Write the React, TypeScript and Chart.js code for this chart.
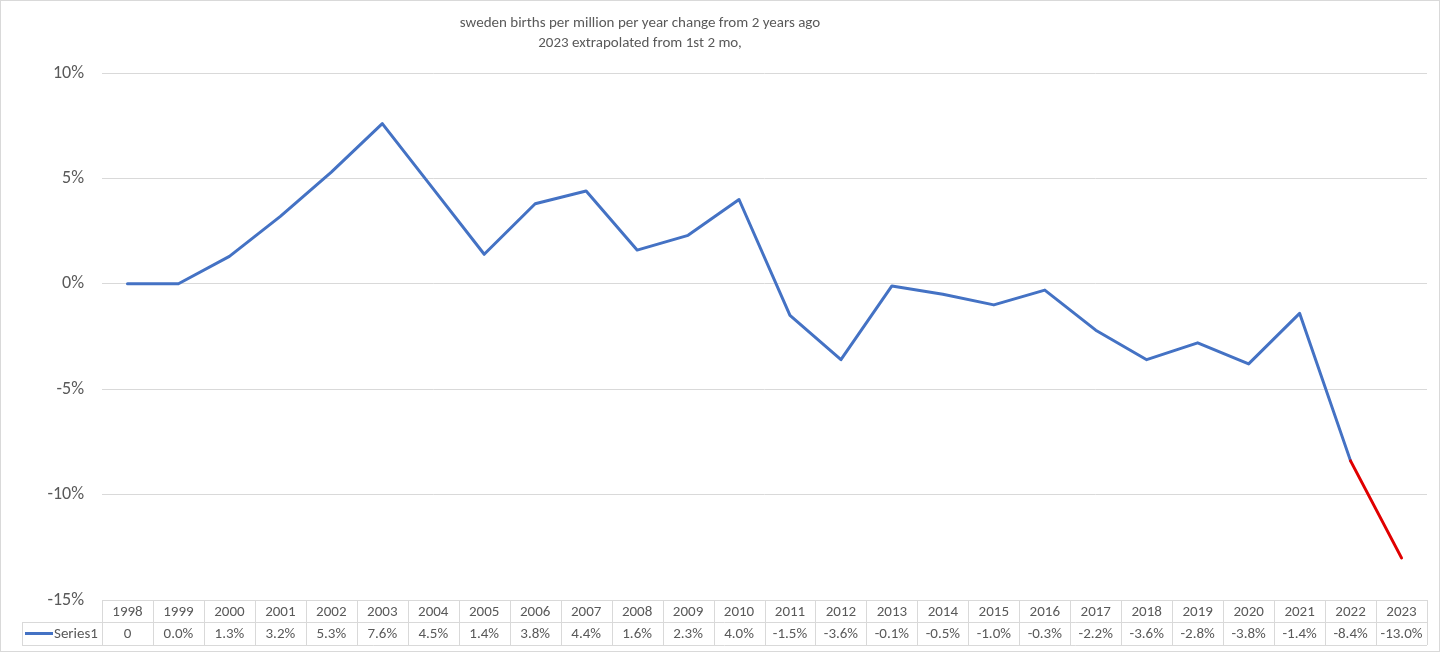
import { useEffect, useRef } from "react";
import { Chart, registerables } from "chart.js";

Chart.register(...registerables);

const years = [
  "1998", "1999", "2000", "2001", "2002", "2003", "2004", "2005", "2006", "2007",
  "2008", "2009", "2010", "2011", "2012", "2013", "2014", "2015", "2016", "2017",
  "2018", "2019", "2020", "2021", "2022", "2023",
];
const changePct = [
  0, 0.0, 1.3, 3.2, 5.3, 7.6, 4.5, 1.4, 3.8, 4.4,
  1.6, 2.3, 4.0, -1.5, -3.6, -0.1, -0.5, -1.0, -0.3, -2.2,
  -3.6, -2.8, -3.8, -1.4, -8.4, -13.0,
];
const yTicks = [-15, -10, -5, 0, 5, 10];
const titleLines = [
  "sweden births per million per year change from 2 years ago",
  "2023 extrapolated from 1st 2 mo,",
];
const seriesName = "Series1";
const extrapolationStart = "2022";

const BLUE = "#4472C4";
const RED = "#E00000";
const GRID = "#d9d9d9";
const TEXT = "#595959";
const FONT = "Carlito, Calibri, Lato, sans-serif";

function formatCell(v: number, i: number): string {
  if (i === 0) return String(v);
  return v.toFixed(1) + "%";
}

const framePlugin = {
  id: "frameAndTable",
  afterDraw(chart: any) {
    const ctx = chart.ctx as CanvasRenderingContext2D;
    const { left, right, bottom } = chart.chartArea;
    const xs = chart.scales.x;
    const n = years.length;
    const colW = (right - left) / n;
    const row1 = bottom + 22;
    const row2 = bottom + 45;
    const keyLeft = 22;

    ctx.save();
    // outer frame
    ctx.strokeStyle = GRID;
    ctx.lineWidth = 1;
    ctx.strokeRect(0.5, 0.5, chart.width - 2, chart.height - 2);

    // title
    ctx.fillStyle = TEXT;
    ctx.font = `15px ${FONT}`;
    ctx.textAlign = "center";
    ctx.textBaseline = "middle";
    titleLines.forEach((t, i) => ctx.fillText(t, 640, 23 + i * 20));

    // table grid
    ctx.strokeStyle = GRID;
    ctx.lineWidth = 1;
    ctx.beginPath();
    ctx.moveTo(left, Math.round(bottom) + 0.5);
    ctx.lineTo(right, Math.round(bottom) + 0.5);
    ctx.moveTo(keyLeft, Math.round(row1) + 0.5);
    ctx.lineTo(right, Math.round(row1) + 0.5);
    ctx.moveTo(keyLeft, Math.round(row2) + 0.5);
    ctx.lineTo(right, Math.round(row2) + 0.5);
    for (let i = 0; i <= n; i++) {
      const x = Math.round(left + i * colW) + 0.5;
      ctx.moveTo(x, bottom);
      ctx.lineTo(x, row2);
    }
    ctx.moveTo(keyLeft + 0.5, row1);
    ctx.lineTo(keyLeft + 0.5, row2);
    ctx.stroke();

    // table text
    ctx.fillStyle = TEXT;
    ctx.font = `15px ${FONT}`;
    ctx.textAlign = "center";
    ctx.textBaseline = "middle";
    years.forEach((y, i) => {
      const x = xs.getPixelForValue(i);
      ctx.fillText(y, x, (bottom + row1) / 2 + 1);
      ctx.fillText(formatCell(changePct[i], i), x, (row1 + row2) / 2 + 1);
    });

    // legend key
    const ky = (row1 + row2) / 2;
    ctx.strokeStyle = BLUE;
    ctx.lineWidth = 3;
    ctx.beginPath();
    ctx.moveTo(keyLeft + 3, ky);
    ctx.lineTo(keyLeft + 31, ky);
    ctx.stroke();
    ctx.textAlign = "left";
    ctx.fillText(seriesName, keyLeft + 32, ky + 1);
    ctx.restore();
  },
};

export default function App() {
  const ref = useRef<HTMLCanvasElement | null>(null);

  useEffect(() => {
    document.body.style.margin = "0";
    if (!ref.current) return;
    const redFrom = years.indexOf(extrapolationStart);
    const chart = new Chart(ref.current, {
      type: "line",
      data: {
        labels: years,
        datasets: [
          {
            label: seriesName,
            data: changePct,
            borderColor: BLUE,
            borderWidth: 3,
            pointRadius: 0,
            tension: 0,
            borderJoinStyle: "round",
            borderCapStyle: "round",
            segment: {
              borderColor: (c: any) => (c.p0DataIndex >= redFrom ? RED : BLUE),
            },
          },
        ],
      },
      options: {
        animation: false,
        responsive: false,
        devicePixelRatio: 1,
        layout: { padding: { left: 0, top: 73, right: 14, bottom: 53 } },
        plugins: {
          legend: { display: false },
          title: { display: false },
          tooltip: { enabled: false },
        },
        scales: {
          x: {
            type: "category",
            offset: true,
            display: false,
            grid: { display: false },
          },
          y: {
            min: yTicks[0],
            max: yTicks[yTicks.length - 1],
            afterBuildTicks: (s: any) => {
              s.ticks = yTicks.map((v) => ({ value: v }));
            },
            afterFit: (s: any) => {
              s.width = 102;
            },
            border: { display: false },
            grid: { color: GRID, drawTicks: false, lineWidth: 1 },
            ticks: {
              color: TEXT,
              padding: 18,
              font: { family: FONT, size: 18 },
              callback: (v: any) => `${v}%`,
            },
          },
        },
      },
      plugins: [framePlugin],
    });
    return () => chart.destroy();
  }, []);

  return (
    <div style={{ position: "absolute", left: 0, top: 0, width: 1441, height: 653, background: "#fff" }}>
      <canvas ref={ref} width={1441} height={653} style={{ display: "block", width: 1441, height: 653 }} />
    </div>
  );
}
